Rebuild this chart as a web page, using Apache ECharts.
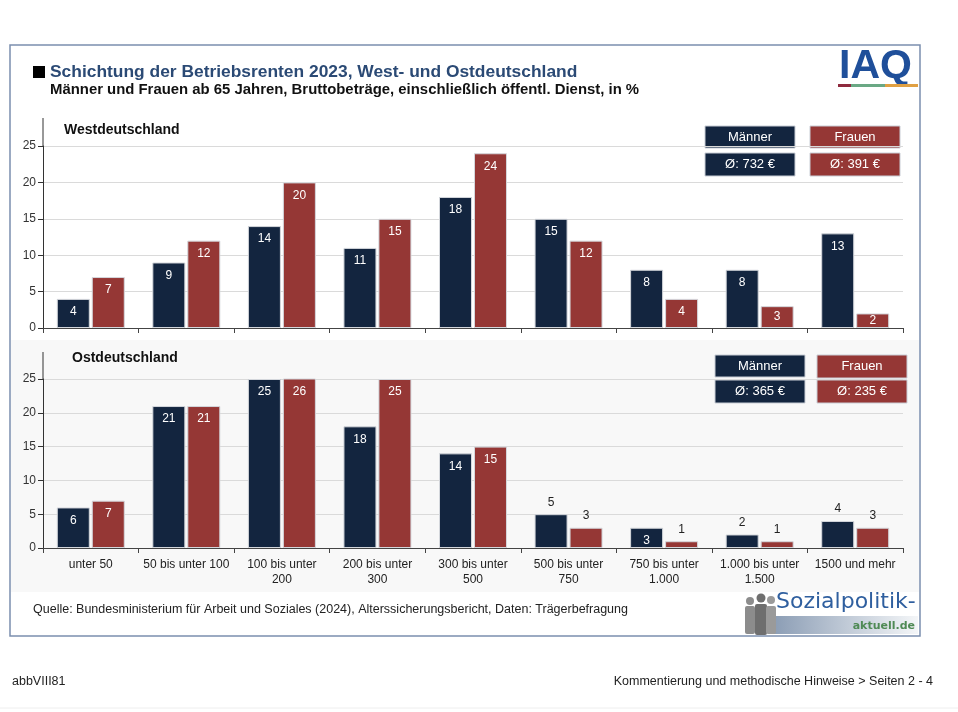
<!DOCTYPE html>
<html>
<head>
<meta charset="utf-8">
<script src="https://cdn.jsdelivr.net/npm/echarts@6/dist/echarts.min.js"></script>
<style>
html,body{margin:0;padding:0;background:#fff;}
#c{width:958px;height:712px;}
</style>
</head>
<body>
<div id="c"></div>
<script>
// ---------- data ----------
const categories = ['unter 50','50 bis unter 100','100 bis unter 200','200 bis unter 300','300 bis unter 500','500 bis unter 750','750 bis unter 1.000','1.000 bis unter 1.500','1500 und mehr'];
const westMaenner = [4, 9, 14, 11, 18, 15, 8, 8, 13];
const westFrauen  = [7, 12, 20, 15, 24, 12, 4, 3, 2];
const ostMaenner  = [6, 21, 25, 18, 14, 5, 3, 2, 4];
const ostFrauen   = [7, 21, 26, 25, 15, 3, 1, 1, 3];
const avgWest = { maenner: '732', frauen: '391' };
const avgOst  = { maenner: '365', frauen: '235' };

// ---------- styles ----------
const FONT = '"Liberation Sans", Arial, sans-serif';
const C_M = '#13253f';
const C_F = '#953735';
// label placement overrides (style only)
const westCenterIdx = { f: [7, 8], m: [] };
const ostOutsideIdx = { m: [5, 7, 8], f: [5, 6, 7, 8] };

function mkData(vals, centerIdx, outsideIdx) {
  return vals.map((v, i) => {
    if (outsideIdx.indexOf(i) >= 0) {
      return { value: v, label: { position: 'top', distance: 6, color: '#222' } };
    }
    if (centerIdx.indexOf(i) >= 0) {
      return { value: v, label: { position: 'inside' } };
    }
    return v;
  });
}

const baseLabel = { show: true, position: 'insideTop', distance: 7, color: '#fff', fontSize: 12, fontFamily: FONT };

function yAx(gi) {
  return {
    type: 'value', gridIndex: gi, min: 0, max: 25, interval: 5,
    axisLine: { show: true, lineStyle: { color: '#333', width: 1 } },
    axisTick: { show: true, length: 5, lineStyle: { color: '#333' } },
    axisLabel: { color: '#333', fontSize: 12, fontFamily: FONT, margin: 7 },
    splitLine: { show: true, lineStyle: { color: '#dadada', width: 1 } }
  };
}
function xAx(gi, showLabel) {
  return {
    type: 'category', gridIndex: gi, data: categories, boundaryGap: true,
    axisLine: { show: true, lineStyle: { color: '#444', width: 1 } },
    axisTick: { show: true, length: 5, lineStyle: { color: '#444' } },
    axisLabel: { show: showLabel, interval: 0, color: '#222', fontSize: 12, fontFamily: FONT,
      margin: 9, lineHeight: 15,
      formatter: function (v) { return v.length > 16 ? v.replace(/ (\S+)$/, '\n$1') : v; } }
  };
}
function bar(name, xi, vals, color, centerIdx, outsideIdx) {
  return {
    name: name, type: 'bar', xAxisIndex: xi, yAxisIndex: xi,
    data: mkData(vals, centerIdx, outsideIdx),
    barWidth: 33, barGap: '6%',
    itemStyle: { color: color, borderColor: '#d4d7dc', borderWidth: 1 },
    label: baseLabel
  };
}
function box(x, y, w, h, fill, text) {
  return {
    type: 'rect', shape: { x: x, y: y, width: w, height: h },
    style: { fill: fill, stroke: '#c9ced6', lineWidth: 1 },
    textContent: { style: { text: text, fill: '#fff', fontSize: 13, fontFamily: FONT } },
    textConfig: { position: 'inside' }
  };
}

const chart = echarts.init(document.getElementById('c'), null, { renderer: 'canvas' });
chart.setOption({
  backgroundColor: '#fff',
  animation: false,
  grid: [
    { left: 43, right: 55, top: 146, bottom: 384 },
    { left: 43, right: 55, top: 379, bottom: 164 }
  ],
  xAxis: [xAx(0, false), xAx(1, true)],
  yAxis: [yAx(0), yAx(1)],
  series: [
    bar('Männer West', 0, westMaenner, C_M, westCenterIdx.m, []),
    bar('Frauen West', 0, westFrauen, C_F, westCenterIdx.f, []),
    bar('Männer Ost', 1, ostMaenner, C_M, [], ostOutsideIdx.m),
    bar('Frauen Ost', 1, ostFrauen, C_F, [], ostOutsideIdx.f)
  ],
  graphic: [
    { type: 'rect', z: -100, shape: { x: 11, y: 340, width: 908, height: 252 }, style: { fill: '#f8f8f8' } },
    { type: 'rect', shape: { x: 10, y: 45, width: 910, height: 591 }, style: { fill: 'none', stroke: '#7b8fae', lineWidth: 1.5 } },
    // title
    { type: 'rect', shape: { x: 33, y: 66, width: 12, height: 12 }, style: { fill: '#000' } },
    { type: 'text', x: 50, y: 72, style: { text: 'Schichtung der Betriebsrenten 2023, West- und Ostdeutschland', fill: '#2b4a75', fontSize: 17.4, fontWeight: 'bold', fontFamily: FONT, textVerticalAlign: 'middle' } },
    { type: 'text', x: 50, y: 90, style: { text: 'Männer und Frauen ab 65 Jahren, Bruttobeträge, einschließlich öffentl. Dienst, in %', fill: '#111', fontSize: 14.9, fontWeight: 'bold', fontFamily: FONT, textVerticalAlign: 'middle' } },
    // IAQ logo
    { type: 'text', x: 839, y: 67, style: { text: 'IAQ', fill: '#1f4f9a', fontSize: 41, fontWeight: 'bold', fontFamily: FONT, textVerticalAlign: 'middle' } },
    { type: 'rect', shape: { x: 838, y: 84, width: 13, height: 3 }, style: { fill: '#8e2a3e' } },
    { type: 'rect', shape: { x: 851, y: 84, width: 34, height: 3 }, style: { fill: '#6aa884' } },
    { type: 'rect', shape: { x: 885, y: 84, width: 33, height: 3 }, style: { fill: '#e0a043' } },
    // panel titles
    { type: 'text', x: 64, y: 130, style: { text: 'Westdeutschland', fill: '#111', fontSize: 14, fontWeight: 'bold', fontFamily: FONT, textVerticalAlign: 'middle' } },
    { type: 'text', x: 72, y: 358, style: { text: 'Ostdeutschland', fill: '#111', fontSize: 14, fontWeight: 'bold', fontFamily: FONT, textVerticalAlign: 'middle' } },
    // y axis extensions
    { type: 'line', shape: { x1: 43, y1: 118, x2: 43, y2: 146 }, style: { stroke: '#333', lineWidth: 1 } },
    { type: 'line', shape: { x1: 43, y1: 352, x2: 43, y2: 379 }, style: { stroke: '#333', lineWidth: 1 } },
    // legend boxes west
    box(705, 126, 90, 22, C_M, 'Männer'),
    box(810, 126, 90, 22, C_F, 'Frauen'),
    box(705, 153, 90, 23, C_M, 'Ø: ' + avgWest.maenner + ' €'),
    box(810, 153, 90, 23, C_F, 'Ø: ' + avgWest.frauen + ' €'),
    // legend boxes ost
    box(715, 355, 90, 22, C_M, 'Männer'),
    box(817, 355, 90, 23, C_F, 'Frauen'),
    box(715, 380, 90, 23, C_M, 'Ø: ' + avgOst.maenner + ' €'),
    box(817, 380, 90, 23, C_F, 'Ø: ' + avgOst.frauen + ' €'),
    // source
    { type: 'text', x: 33, y: 610, style: { text: 'Quelle: Bundesministerium für Arbeit und Soziales (2024), Alterssicherungsbericht, Daten: Trägerbefragung', fill: '#222', fontSize: 12.5, fontFamily: FONT, textVerticalAlign: 'middle' } },
    // sozialpolitik logo
    { type: 'rect', shape: { x: 772, y: 616, width: 146, height: 18 },
      style: { fill: new echarts.graphic.LinearGradient(0, 0, 1, 0, [{ offset: 0, color: '#8a9cb4' }, { offset: 1, color: '#f4f6f8' }]) } },
    { type: 'circle', shape: { cx: 750, cy: 601, r: 4 }, style: { fill: '#8c8c8c' } },
    { type: 'rect', shape: { x: 745, y: 606, width: 10, height: 28, r: 2 }, style: { fill: '#8c8c8c' } },
    { type: 'circle', shape: { cx: 761, cy: 598, r: 4.5 }, style: { fill: '#6e6e6e' } },
    { type: 'rect', shape: { x: 755, y: 604, width: 12, height: 31, r: 2 }, style: { fill: '#6e6e6e' } },
    { type: 'circle', shape: { cx: 771, cy: 600, r: 4 }, style: { fill: '#9a9a9a' } },
    { type: 'rect', shape: { x: 766, y: 606, width: 10, height: 28, r: 2 }, style: { fill: '#9a9a9a' } },
    { type: 'text', x: 776, y: 602, style: { text: 'Sozialpolitik-', fill: '#2f5f9f', fontSize: 22, fontFamily: '"DejaVu Sans", sans-serif', textVerticalAlign: 'middle' } },
    { type: 'text', x: 915, y: 626, style: { text: 'aktuell.de', fill: '#4f8a55', fontSize: 11, fontWeight: 'bold', fontFamily: '"DejaVu Sans", sans-serif', textAlign: 'right', textVerticalAlign: 'middle' } },
    // footer
    { type: 'text', x: 12, y: 682, style: { text: 'abbVIII81', fill: '#222', fontSize: 12.5, fontFamily: FONT, textVerticalAlign: 'middle' } },
    { type: 'text', x: 933, y: 682, style: { text: 'Kommentierung und methodische Hinweise > Seiten 2 - 4', fill: '#222', fontSize: 12.5, fontFamily: FONT, textAlign: 'right', textVerticalAlign: 'middle' } },
    { type: 'line', shape: { x1: 0, y1: 708, x2: 958, y2: 708 }, style: { stroke: '#eeeeee', lineWidth: 1 } }
  ]
});
</script>
</body>
</html>
